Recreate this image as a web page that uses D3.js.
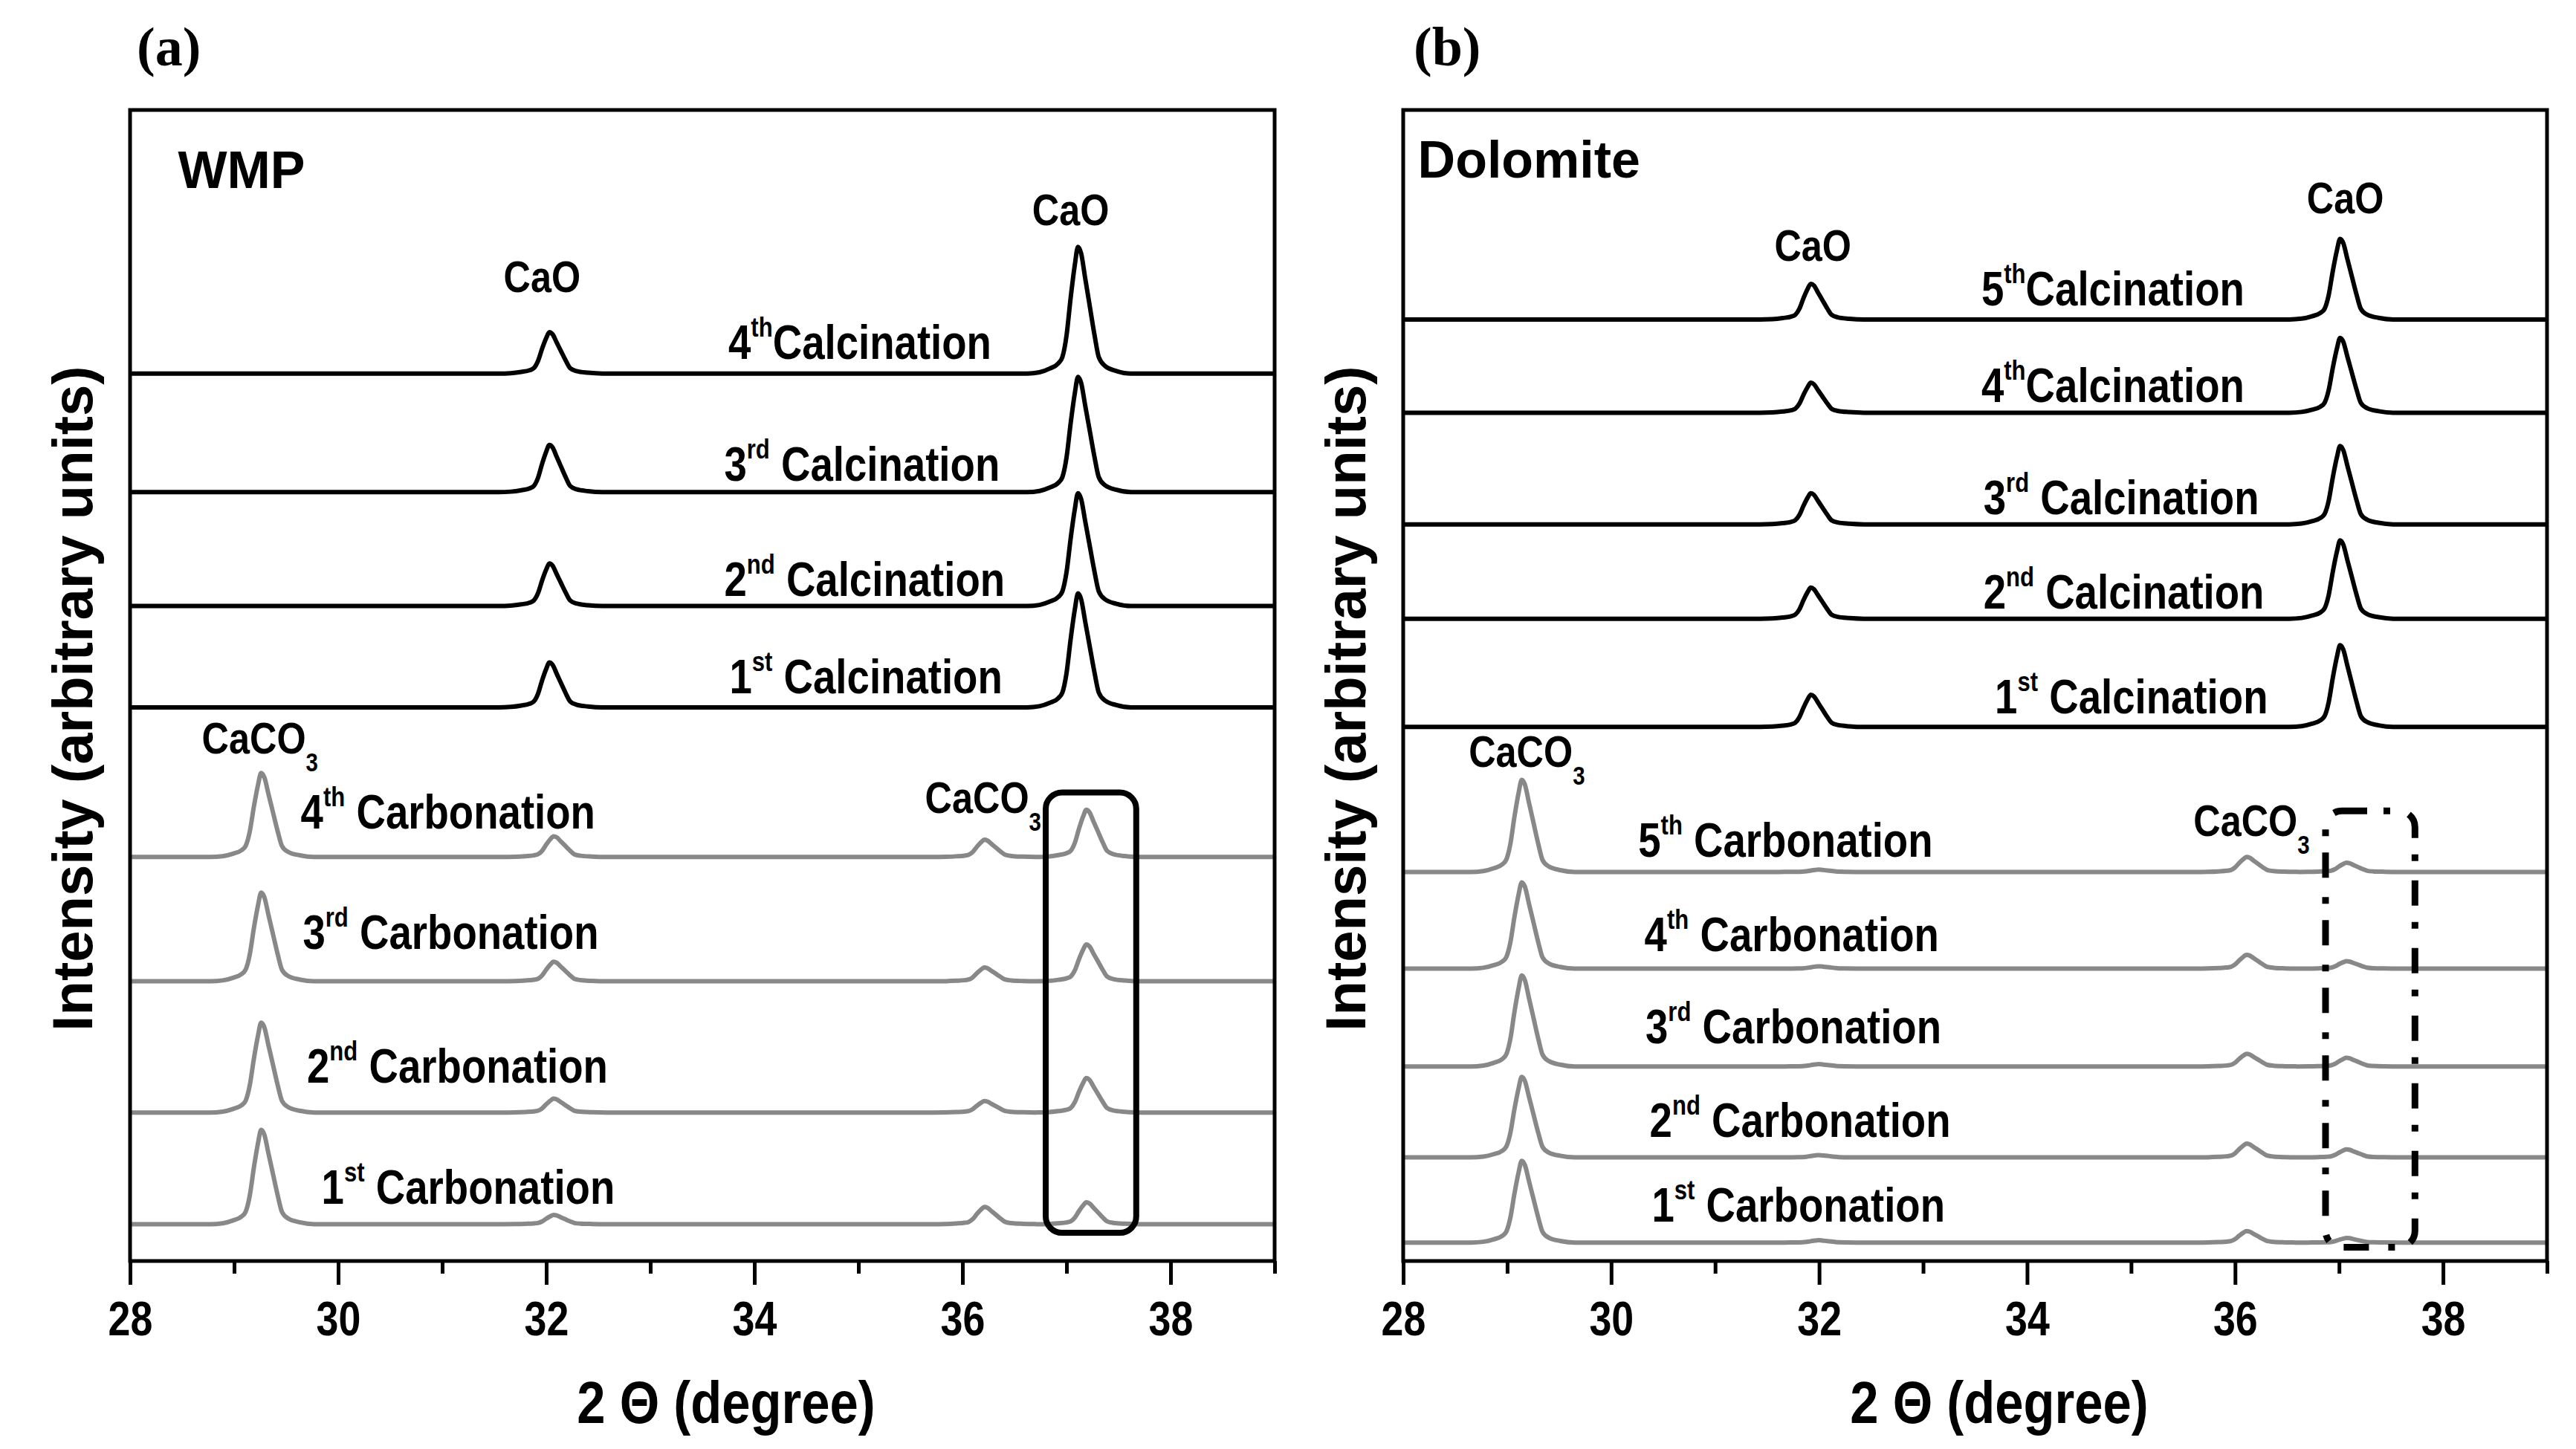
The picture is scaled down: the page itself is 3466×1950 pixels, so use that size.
<!DOCTYPE html>
<html>
<head>
<meta charset="utf-8">
<title>XRD patterns</title>
<style>
body { margin: 0; background: #fff; }
text { font-family: "Liberation Sans", Arial, sans-serif; font-weight: bold; fill: #000; }
.trace { fill: none; stroke-width: 6px; stroke-linejoin: round; }
.frame { fill: none; stroke: #000; stroke-width: 5px; }
.axis path { display: none; }
.axis line { stroke: #000; stroke-width: 5px; }
</style>
</head>
<body>
<script src="https://cdnjs.cloudflare.com/ajax/libs/d3/7.8.5/d3.min.js"></script>
<script>

var xDomain = [28, 39];
var majorTicks = [28, 30, 32, 34, 36, 38];
var minorTicks = [29, 31, 33, 35, 37, 39];

var peakShape = [[-0.5, 0], [-0.38, 0.01], [-0.28, 0.04], [-0.2, 0.08], [-0.16, 0.13],
  [-0.12, 0.3], [-0.08, 0.6], [-0.04, 0.86], [-0.01, 1], [0.02, 0.95], [0.06, 0.75],
  [0.1, 0.55], [0.15, 0.3], [0.19, 0.13], [0.25, 0.06], [0.36, 0.02], [0.5, 0]];

// (a) WMP -- top to bottom
var wmpCalcLabels = [["4", "th", "Calcination"], ["3", "rd", " Calcination"], ["2", "nd", " Calcination"], ["1", "st", " Calcination"]];
var wmpCalcOffsets = [77.1, 66.8, 56.9, 48.1];
var wmpCalcPeaks = [32.04, 37.12];
var wmpCalcHeights = [[3.6, 11.0], [4.1, 10.0], [3.7, 9.8], [3.9, 9.9]];

var wmpCarbLabels = [["4", "th", " Carbonation"], ["3", "rd", " Carbonation"], ["2", "nd", " Carbonation"], ["1", "st", " Carbonation"]];
var wmpCarbOffsets = [35.1, 24.3, 12.9, 3.2];
var wmpCarbPeaks = [29.27, 32.08, 36.22, 37.2];
var wmpCarbHeights = [[7.3, 1.8, 1.5, 4.1], [7.7, 1.7, 1.2, 3.2], [7.8, 1.2, 1.0, 3.0], [8.2, 0.8, 1.5, 1.9]];

// (b) Dolomite -- top to bottom
var dolCalcLabels = [["5", "th", "Calcination"], ["4", "th", "Calcination"], ["3", "rd", " Calcination"], ["2", "nd", " Calcination"], ["1", "st", " Calcination"]];
var dolCalcOffsets = [81.8, 73.7, 64.0, 55.8, 46.4];
var dolCalcPeaks = [31.93, 37.02];
var dolCalcHeights = [[3.1, 7.0], [2.6, 6.5], [2.7, 6.8], [2.7, 6.8], [2.8, 7.1]];

var dolCarbLabels = [["5", "th", " Carbonation"], ["4", "th", " Carbonation"], ["3", "rd", " Carbonation"], ["2", "nd", " Carbonation"], ["1", "st", " Carbonation"]];
var dolCarbOffsets = [33.8, 25.4, 16.9, 9.0, 1.6];
var dolCarbPeaks = [29.15, 32.0, 36.12, 37.08];
var dolCarbHeights = [[8.0, 0.2, 1.3, 0.8], [7.5, 0.2, 1.2, 0.65], [7.9, 0.2, 1.1, 0.75], [7.0, 0.2, 1.2, 0.7], [7.1, 0.2, 1.0, 0.4]];

var width = 3466, height = 1950;
var plotTop = 148, plotBottom = 1697;

var svg = d3.select("body").append("svg")
    .attr("width", width)
    .attr("height", height);
svg.append("rect").attr("width", width).attr("height", height).attr("fill", "#fff");

var panels = [
  {
    tag: "(a)", tagX: 184, name: "WMP", left: 175, right: 1715, titleX: 977,
    namePos: [28.46, 93.2],
    calc: {labels: wmpCalcLabels, offsets: wmpCalcOffsets, peaks: wmpCalcPeaks, heights: wmpCalcHeights,
           labelPos: [[33.75, 78.4], [33.71, 67.8], [33.71, 57.8], [33.76, 49.3]]},
    carb: {labels: wmpCarbLabels, offsets: wmpCarbOffsets, peaks: wmpCarbPeaks, heights: wmpCarbHeights,
           labelPos: [[29.64, 37.6], [29.66, 27.1], [29.7, 15.5], [29.84, 5.0]]},
    caoPos: [[31.96, 84.2], [37.04, 90.0]],
    caco3Pos: [[28.69, 44.1], [35.64, 38.9]],
    box: {x0: 36.8, x1: 37.67, y0: 40.7, y1: 2.45, dash: null}
  },
  {
    tag: "(b)", tagX: 1902, name: "Dolomite", left: 1888, right: 3427, titleX: 2690,
    namePos: [28.14, 94.1],
    calc: {labels: dolCalcLabels, offsets: dolCalcOffsets, peaks: dolCalcPeaks, heights: dolCalcHeights,
           labelPos: [[33.56, 83.0], [33.56, 74.6], [33.58, 64.9], [33.58, 56.7], [33.69, 47.6]]},
    carb: {labels: dolCarbLabels, offsets: dolCarbOffsets, peaks: dolCarbPeaks, heights: dolCarbHeights,
           labelPos: [[30.26, 35.1], [30.32, 26.9], [30.33, 18.9], [30.37, 10.8], [30.39, 3.4]]},
    caoPos: [[31.94, 86.9], [37.06, 91.0]],
    caco3Pos: [[28.63, 42.9], [35.6, 36.9]],
    box: {x0: 36.87, x1: 37.73, y0: 39.1, y1: 1.2, dash: "34,22,9,26"}
  }
];

function shapeAt(dx) {
  if (dx <= peakShape[0][0] || dx >= peakShape[peakShape.length - 1][0]) return 0;
  for (var i = 1; i < peakShape.length; i++) {
    if (dx <= peakShape[i][0]) {
      var a = peakShape[i - 1], b = peakShape[i];
      return a[1] + (b[1] - a[1]) * (dx - a[0]) / (b[0] - a[0]);
    }
  }
  return 0;
}

// build a pattern from its peak list: baseline offset plus one profile per reflection
function pattern(offset, peaks, heights) {
  var xs = [xDomain[0], xDomain[1]];
  peaks.forEach(function(p) {
    peakShape.forEach(function(s) { xs.push(p + s[0]); });
  });
  xs = xs.filter(function(v) { return v >= xDomain[0] && v <= xDomain[1]; }).sort(d3.ascending);
  return xs.map(function(xv) {
    var yv = offset;
    peaks.forEach(function(p, i) { yv += heights[i] * shapeAt(xv - p); });
    return [xv, yv];
  });
}

// condensed text (the figure uses an Arial Narrow-like face): place at (x, y), squeeze horizontally
function narrowText(g, x, y, size, squeeze) {
  return g.append("text")
      .attr("transform", "translate(" + x + "," + y + ") scale(" + (squeeze || 0.84) + ",1)")
      .style("font-size", size + "px");
}

function ordinalLabel(g, x, y, parts) {
  var t = narrowText(g, x, y, 65);
  t.append("tspan").text(parts[0]);
  t.append("tspan").attr("dy", -30).style("font-size", "37px").text(parts[1]);
  t.append("tspan").attr("dy", 30).text(parts[2]);
}

function caco3Label(g, x, y) {
  var t = narrowText(g, x, y, 60);
  t.append("tspan").text("CaCO");
  t.append("tspan").attr("dy", 24).style("font-size", "35px").text("3");
}

panels.forEach(function(p, pi) {
  var x = d3.scaleLinear().domain(xDomain).range([p.left, p.right]);
  var y = d3.scaleLinear().domain([0, 100]).range([plotBottom, plotTop]);
  var g = svg.append("g");

  var clipId = "clip" + pi;
  svg.append("clipPath").attr("id", clipId).append("rect")
      .attr("x", p.left).attr("y", plotTop)
      .attr("width", p.right - p.left).attr("height", plotBottom - plotTop);

  var line = d3.line()
      .x(function(d) { return x(d[0]); })
      .y(function(d) { return y(d[1]); })
      .curve(d3.curveMonotoneX);

  var traces = g.append("g").attr("clip-path", "url(#" + clipId + ")");
  [[p.carb, "#888"], [p.calc, "#000"]].forEach(function(set) {
    var s = set[0];
    s.offsets.forEach(function(off, i) {
      traces.append("path")
          .attr("class", "trace")
          .attr("stroke", set[1])
          .attr("d", line(pattern(off, s.peaks, s.heights[i])));
    });
  });

  // axes
  g.append("g").attr("class", "axis")
      .attr("transform", "translate(0," + plotBottom + ")")
      .call(d3.axisBottom(x).tickValues(minorTicks).tickSize(17).tickFormat(""));
  var ax = g.append("g").attr("class", "axis")
      .attr("transform", "translate(0," + plotBottom + ")")
      .call(d3.axisBottom(x).tickValues(majorTicks).tickSize(32).tickPadding(0).tickFormat(d3.format("d")));
  ax.selectAll("text")
      .attr("y", null).attr("dy", null)
      .attr("transform", "translate(0,100) scale(0.84,1)")
      .attr("fill", "#000")
      .style("font-size", "64px");

  g.append("rect").attr("class", "frame")
      .attr("x", p.left).attr("y", plotTop)
      .attr("width", p.right - p.left).attr("height", plotBottom - plotTop);

  // labels
  g.append("text").attr("x", p.tagX).attr("y", 88)
      .style("font-family", "'Liberation Serif', serif")
      .style("font-size", "74px").text(p.tag);
  g.append("text").attr("x", x(p.namePos[0])).attr("y", y(p.namePos[1]))
      .style("font-size", "70px").text(p.name);

  p.caoPos.forEach(function(c) {
    narrowText(g, x(c[0]), y(c[1]), 60).attr("text-anchor", "middle").text("CaO");
  });
  p.caco3Pos.forEach(function(c) { caco3Label(g, x(c[0]), y(c[1])); });

  [p.calc, p.carb].forEach(function(s) {
    s.labels.forEach(function(l, i) {
      ordinalLabel(g, x(s.labelPos[i][0]), y(s.labelPos[i][1]), l);
    });
  });

  var box = g.append("rect")
      .attr("x", x(p.box.x0)).attr("y", y(p.box.y0))
      .attr("width", x(p.box.x1) - x(p.box.x0))
      .attr("height", y(p.box.y1) - y(p.box.y0))
      .attr("rx", 22)
      .attr("fill", "none").attr("stroke", "#000").attr("stroke-width", 8);
  if (p.box.dash) box.attr("stroke-dasharray", p.box.dash).attr("stroke-width", 9);

  // axis titles
  narrowText(g, p.titleX, 1915, 80, 0.86)
      .attr("text-anchor", "middle")
      .text("2 \u0398 (degree)");
  g.append("text")
      .attr("transform", "translate(" + (p.left - 51) + ",940) rotate(-90)")
      .attr("text-anchor", "middle")
      .style("font-size", "76px")
      .text("Intensity (arbitrary units)");
});

</script>
</body>
</html>
